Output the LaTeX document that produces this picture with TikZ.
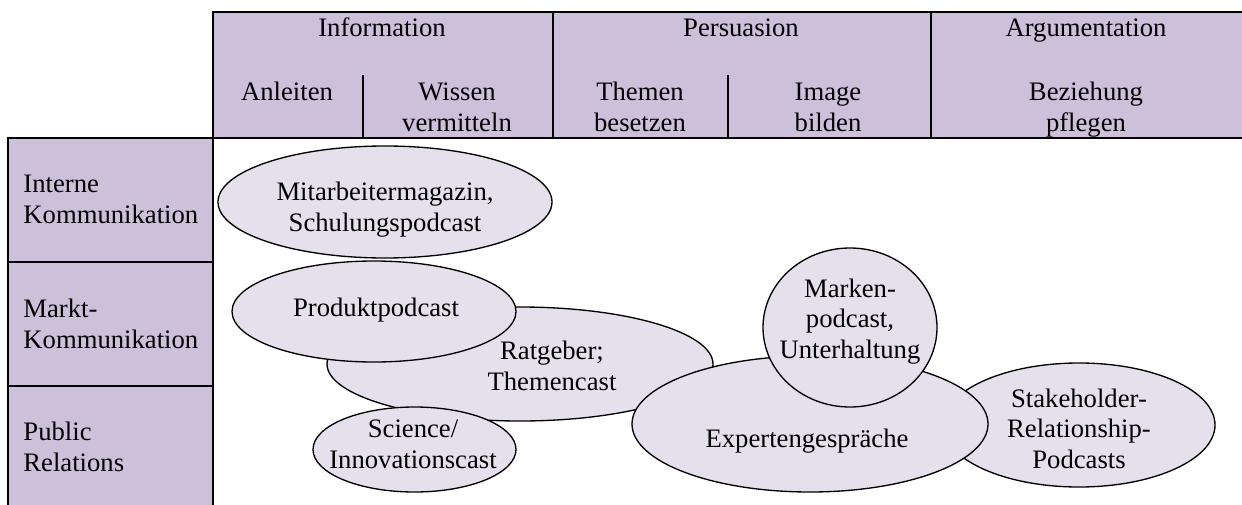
\documentclass[tikz,border=0pt]{standalone}
\usepackage{fontspec}
\setmainfont{Liberation Serif}
\usepackage{xcolor}
\usetikzlibrary{positioning,shapes.geometric}
\definecolor{headlila}{RGB}{204,192,218}
\definecolor{podlila}{RGB}{229,224,236}
\tikzset{
  cellbox/.style={draw,rectangle,line width=0.9pt,fill=headlila,inner sep=0pt,anchor=north west},
  subcell/.style={rectangle,inner sep=0pt,anchor=north west,minimum height=27.9pt},
  headtxt/.style={align=center,inner sep=0pt,anchor=base},
  rowtxt/.style={align=left,inner sep=0pt,anchor=base west},
  pod/.style={draw,ellipse,fill=podlila,line width=0.6pt,inner sep=0pt},
  podtxt/.style={align=center,inner sep=0pt,anchor=base}
}
\begin{document}
\begin{tikzpicture}[x=0.45pt,y=-0.45pt,every node/.style={font=\fontsize{12}{13.8}\selectfont}]
  \useasboundingbox (0,0) rectangle (1242,505);
  % Kopfzeile: Ziele
  \node[cellbox,minimum width=153pt,minimum height=56.7pt] (info) at (212,11) {};
  \node[cellbox,minimum width=170.1pt,minimum height=56.7pt] (pers) at (552,11) {};
  \node[cellbox,minimum width=141pt,minimum height=56.7pt] (argu) at (930,11) {};
  \node[subcell,minimum width=67.5pt] (anl) at (212,75) {};
  \node[subcell,minimum width=78.75pt] (the) at (552,75) {};
  \draw[line width=0.9pt] (anl.north east) -- (anl.south east);
  \draw[line width=0.9pt] (the.north east) -- (the.south east);

  \node[headtxt] (tinfo) at (382,36) {Information};
  \node[headtxt] (tpers) at (741,36) {Persuasion};
  \node[headtxt] (targu) at (1086,36) {Argumentation};
  \node[headtxt] (tanl) at (287,100) {Anleiten};
  \node[headtxt] (twis) at (457,131) {Wissen\\vermitteln};
  \node[headtxt] (tthe) at (640,131) {Themen\\besetzen};
  \node[headtxt] (tima) at (828,131) {Image\\bilden};
  \node[headtxt] (tbez) at (1086,131) {Beziehung\\pflegen};

  % linke Spalte: Bereiche
  \node[cellbox,minimum width=92.25pt,minimum height=55.8pt] (intern) at (7,137) {};
  \node[cellbox,minimum width=92.25pt,minimum height=55.8pt] (markt) at (7,261) {};
  \node[cellbox,minimum width=92.25pt,minimum height=56.7pt] (pr) at (7,385) {};
  \node[rowtxt] (tintern) at (23,223) {Interne\\Kommunikation};
  \node[rowtxt] (tmarkt) at (23,348) {Markt-\\Kommunikation};
  \node[rowtxt] (tpr) at (23,471) {Public\\Relations};

  % Podcast-Formate
  \node[pod,minimum width=150.3pt,minimum height=50.4pt] (mit) at (385,202) {};
  \node[pod,minimum width=173.7pt,minimum height=51.3pt] (rat) at (520,364) {};
  \node[pod,minimum width=127.8pt,minimum height=45.45pt] (pro) at (374,311.5) {};
  \node[pod,minimum width=91.35pt,minimum height=38.25pt] (sci) at (414.5,449.5) {};
  \node[pod,minimum width=122.4pt,minimum height=55.8pt] (sta) at (1079,425) {};
  \node[pod,minimum width=160.2pt,minimum height=61.2pt] (exp) at (810,424) {};
  \node[pod,minimum width=78.3pt,minimum height=71.55pt] (mar) at (850,327.5) {};

  \node[podtxt] (tmit) at (385,231) {Mitarbeitermagazin,\\Schulungspodcast};
  \node[podtxt] (trat) at (552,390) {Ratgeber;\\Themencast};
  \node[podtxt] (tpro) at (376,316) {Produktpodcast};
  \node[podtxt] (tsci) at (413,468) {Science/\\Innovationscast};
  \node[podtxt] (tsta) at (1079,468.5) {Stakeholder-\\Relationship-\\Podcasts};
  \node[podtxt] (texp) at (807,447) {Expertengespräche};
  \node[podtxt] (tmar) at (850,358.5) {Marken-\\podcast,\\Unterhaltung};
\end{tikzpicture}
\end{document}
